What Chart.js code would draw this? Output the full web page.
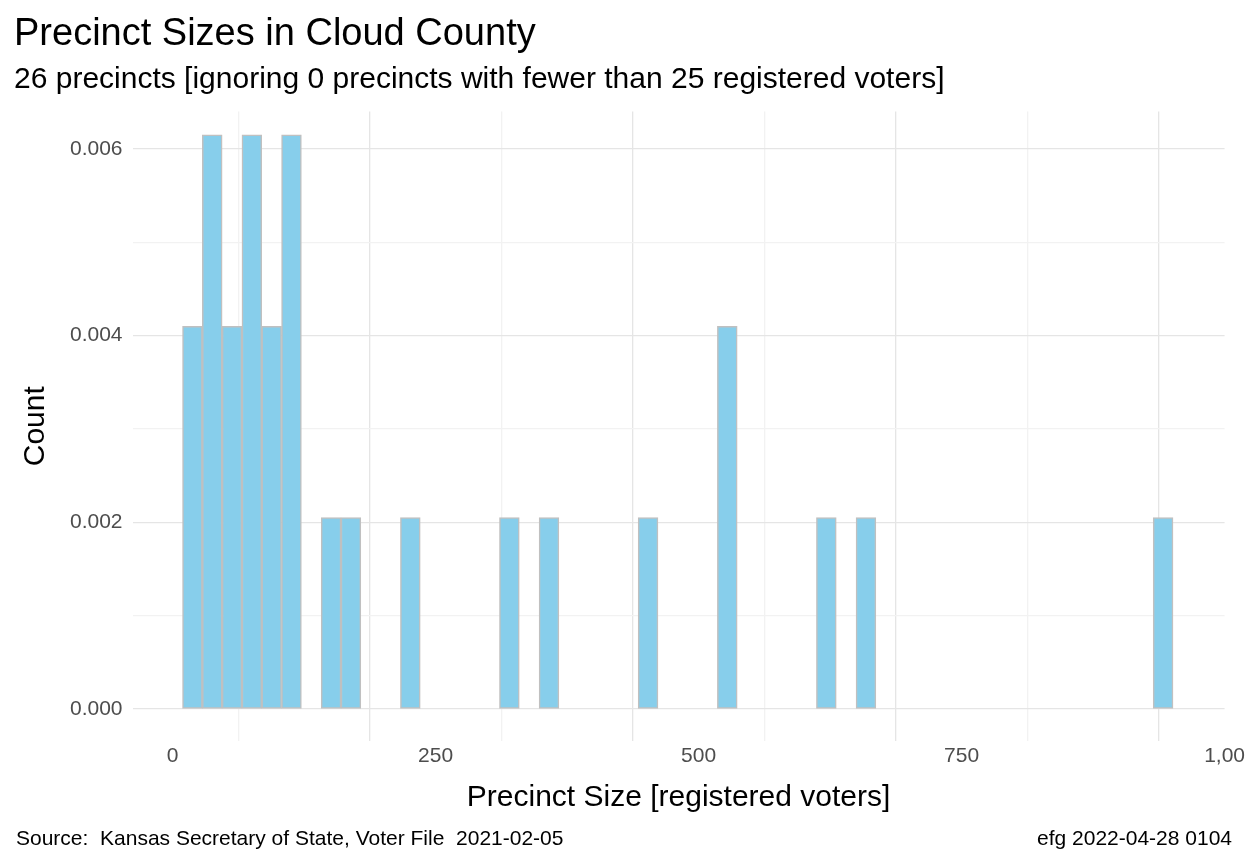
<!DOCTYPE html>
<html><head><meta charset="utf-8">
<script src="https://cdn.jsdelivr.net/npm/chart.js@4"></script>
<style>
body{margin:0;background:#fff;font-family:"Liberation Sans",Arial,sans-serif;}
#wrap{position:relative;width:1248px;height:864px;}
.cap{position:absolute;bottom:14px;font-size:21px;color:#000;}
</style></head><body>
<div id="wrap"><canvas id="c" width="1248" height="864"></canvas>
<div class="cap" style="left:16px">Source:&nbsp; Kansas Secretary of State, Voter File&nbsp; 2021-02-05</div>
<div class="cap" style="right:16px">efg 2022-04-28 0104</div></div>
<script>
// histogram bins: first edge and width, in registered voters
const binStart = 9.5;
const binWidth = 18.83;
// density per bin (50 bins)
const density = [
  0.00410, 0.00615, 0.00410, 0.00615, 0.00410, 0.00615, 0, 0.00205, 0.00205, 0,
  0, 0.00205, 0, 0, 0, 0, 0.00205, 0, 0.00205, 0,
  0, 0, 0, 0.00205, 0, 0, 0, 0.00410, 0, 0,
  0, 0, 0.00205, 0, 0.00205, 0, 0, 0, 0, 0,
  0, 0, 0, 0, 0, 0, 0, 0, 0, 0.00205
];
const xTicks = [0, 250, 500, 750, 1000];
const xTickLabels = ['0', '250', '500', '750', '1,00'];
const yTicks = [0, 0.002, 0.004, 0.006];

const pts = density.map((d, i) => ({x: binStart + binWidth * (i + 0.5), y: d}));
const tickFont = {family: '"Liberation Sans", Arial', size: 21};
const isMajorX = v => xTicks.includes(v);
const isMajorY = v => yTicks.some(t => Math.abs(t - v) < 1e-9);

new Chart(document.getElementById('c'), {
  type: 'bar',
  data: {datasets: [{data: pts, backgroundColor: '#87CEEB', borderColor: '#c0c0c0',
    borderWidth: 1.5, barPercentage: 1, categoryPercentage: 1, borderSkipped: false}]},
  options: {
    responsive: false, animation: false,
    layout: {padding: {left: 14, right: 14, top: 6, bottom: 44}},
    plugins: {
      legend: {display: false}, tooltip: {enabled: false},
      title: {display: true, text: 'Precinct Sizes in Cloud County', align: 'start', color: '#000',
        font: {family: '"Liberation Sans", Arial', size: 38, weight: 'normal'}, padding: {top: 6, bottom: 4}},
      subtitle: {display: true, text: '26 precincts [ignoring 0 precincts with fewer than 25 registered voters]',
        align: 'start', color: '#000', font: {family: '"Liberation Sans", Arial', size: 30}, padding: {bottom: 14}}
    },
    scales: {
      x: {type: 'linear', min: -38, max: 1000, offset: false,
        afterBuildTicks: s => { s.ticks = [0,125,250,375,500,625,750,875,1000].map(v => ({value: v})); },
        ticks: {font: tickFont, color: '#4d4d4d', maxRotation: 0,
          callback: v => { const i = xTicks.indexOf(v); return i >= 0 ? xTickLabels[i] : ''; }},
        grid: {color: c => (c.tick && isMajorX(c.tick.value)) ? '#e5e5e5' : '#f2f2f2', lineWidth: 1.3, drawTicks: false},
        border: {display: false},
        title: {display: true, text: 'Precinct Size [registered voters]', color: '#000',
          font: {family: '"Liberation Sans", Arial', size: 30}, padding: {top: 8}}},
      y: {min: -0.00034, max: 0.0064,
        afterBuildTicks: s => { s.ticks = [0,0.001,0.002,0.003,0.004,0.005,0.006].map(v => ({value: v})); },
        ticks: {font: tickFont, color: '#4d4d4d', padding: 10,
          callback: v => isMajorY(v) ? v.toFixed(3) : ''},
        grid: {color: c => (c.tick && isMajorY(c.tick.value)) ? '#e5e5e5' : '#f2f2f2', lineWidth: 1.3, drawTicks: false},
        border: {display: false},
        title: {display: true, text: 'Count', color: '#000',
          font: {family: '"Liberation Sans", Arial', size: 30}, padding: {bottom: 6}}}
    }
  }
});
</script></body></html>
